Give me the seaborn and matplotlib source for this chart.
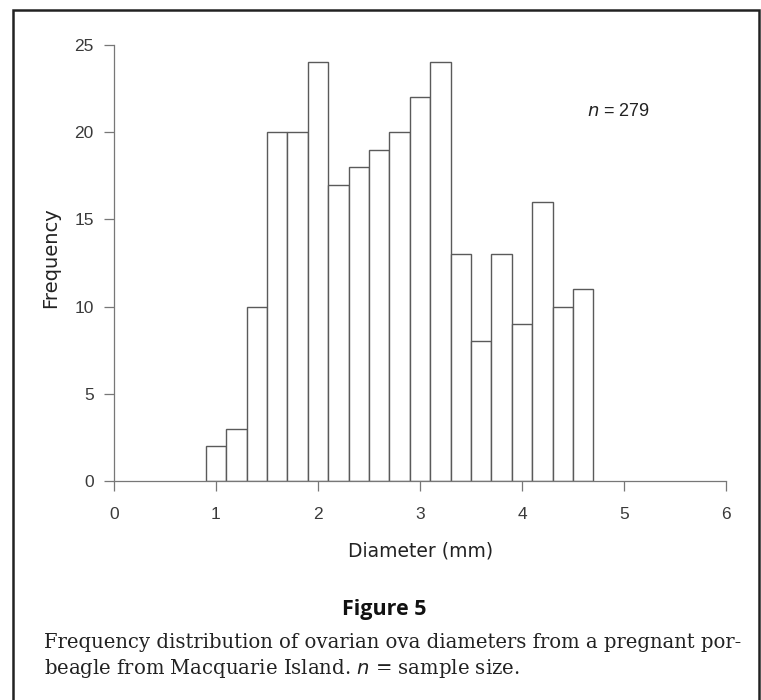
import numpy as np
import pandas as pd
import matplotlib
matplotlib.use("Agg")
import matplotlib.pyplot as plt
import seaborn as sns
from matplotlib.patches import Rectangle

# Data: histogram of ovarian ova diameters (mm), bin width 0.2
bin_left = [0.9, 1.1, 1.3, 1.5, 1.7, 1.9, 2.1, 2.3, 2.5, 2.7,
            2.9, 3.1, 3.3, 3.5, 3.7, 3.9, 4.1, 4.3, 4.5]
counts = [2, 3, 10, 20, 20, 24, 17, 18, 19, 20,
          22, 24, 13, 8, 13, 9, 16, 10, 11]
bin_width = 0.2
x_ticks = [0, 1, 2, 3, 4, 5, 6]
y_ticks = [0, 5, 10, 15, 20, 25]
annotation = "$n$ = 279"
x_label = "Diameter (mm)"
y_label = "Frequency"
fig_title = "Figure 5"
caption_l1 = "Frequency distribution of ovarian ova diameters from a pregnant por-"
caption_l2 = "beagle from Macquarie Island. $n$ = sample size."

df = pd.DataFrame({"diameter": np.array(bin_left) + bin_width / 2,
                   "count": counts})
edges = list(bin_left) + [bin_left[-1] + bin_width]

sns.set_style("ticks")
plt.rcParams["font.family"] = ["Liberation Sans", "DejaVu Sans"]

W, H = 761, 700
fig = plt.figure(figsize=(W / 100, H / 100), dpi=100)
ax = fig.add_axes([114 / W, 1 - 481 / H, (726 - 114) / W, (481 - 45) / H])

sns.histplot(data=df, x="diameter", weights="count", bins=edges,
             color="white", edgecolor="#5a5a5a", linewidth=1.0,
             alpha=1.0, ax=ax)

ax.set_xlim(0, 6)
ax.set_ylim(0, 25)
ax.set_xticks(x_ticks)
ax.set_yticks(y_ticks)
ax.set_xlabel("")
ax.set_ylabel("")
for side in ["top", "right"]:
    ax.spines[side].set_visible(False)
for side in ["left", "bottom"]:
    ax.spines[side].set_color("#777777")
    ax.spines[side].set_linewidth(0.9)
ax.tick_params(axis="both", direction="out", length=7.5, width=0.9,
               color="#777777", labelcolor="#3a3a3a", labelsize=12.5)
ax.tick_params(axis="x", pad=11)
ax.tick_params(axis="y", pad=7)
ax.set_facecolor("white")

ax.text(4.64, 21.2, annotation, fontsize=13, color="#222222",
        ha="left", va="center")

fig.text(51 / W, 1 - 258 / H, y_label, rotation=90, ha="center",
         va="center", fontsize=14, color="#222222",
         family=["DejaVu Sans"])
fig.text(421 / W, 1 - 551 / H, x_label, ha="center", va="center",
         fontsize=13.5, color="#222222", family=["DejaVu Sans"])

fig.text(384 / W, 1 - 610 / H, fig_title, ha="center", va="center",
         fontsize=15.5, fontweight="bold", color="#111111",
         family=["Open Sans", "DejaVu Sans"])
fig.text(44 / W, 1 - 642 / H, caption_l1, ha="left", va="center",
         fontsize=14.1, color="#222222", family=["DejaVu Serif"])
fig.text(44 / W, 1 - 669 / H, caption_l2, ha="left", va="center",
         fontsize=14.1, color="#222222", family=["DejaVu Serif"])

fig.patches.append(Rectangle((13 / W, -0.1), (759 - 13) / W, 1.1 - 10 / H,
                             transform=fig.transFigure, fill=False,
                             edgecolor="#222222", linewidth=1.8))

fig.savefig("out.png", dpi=100, facecolor="white")
